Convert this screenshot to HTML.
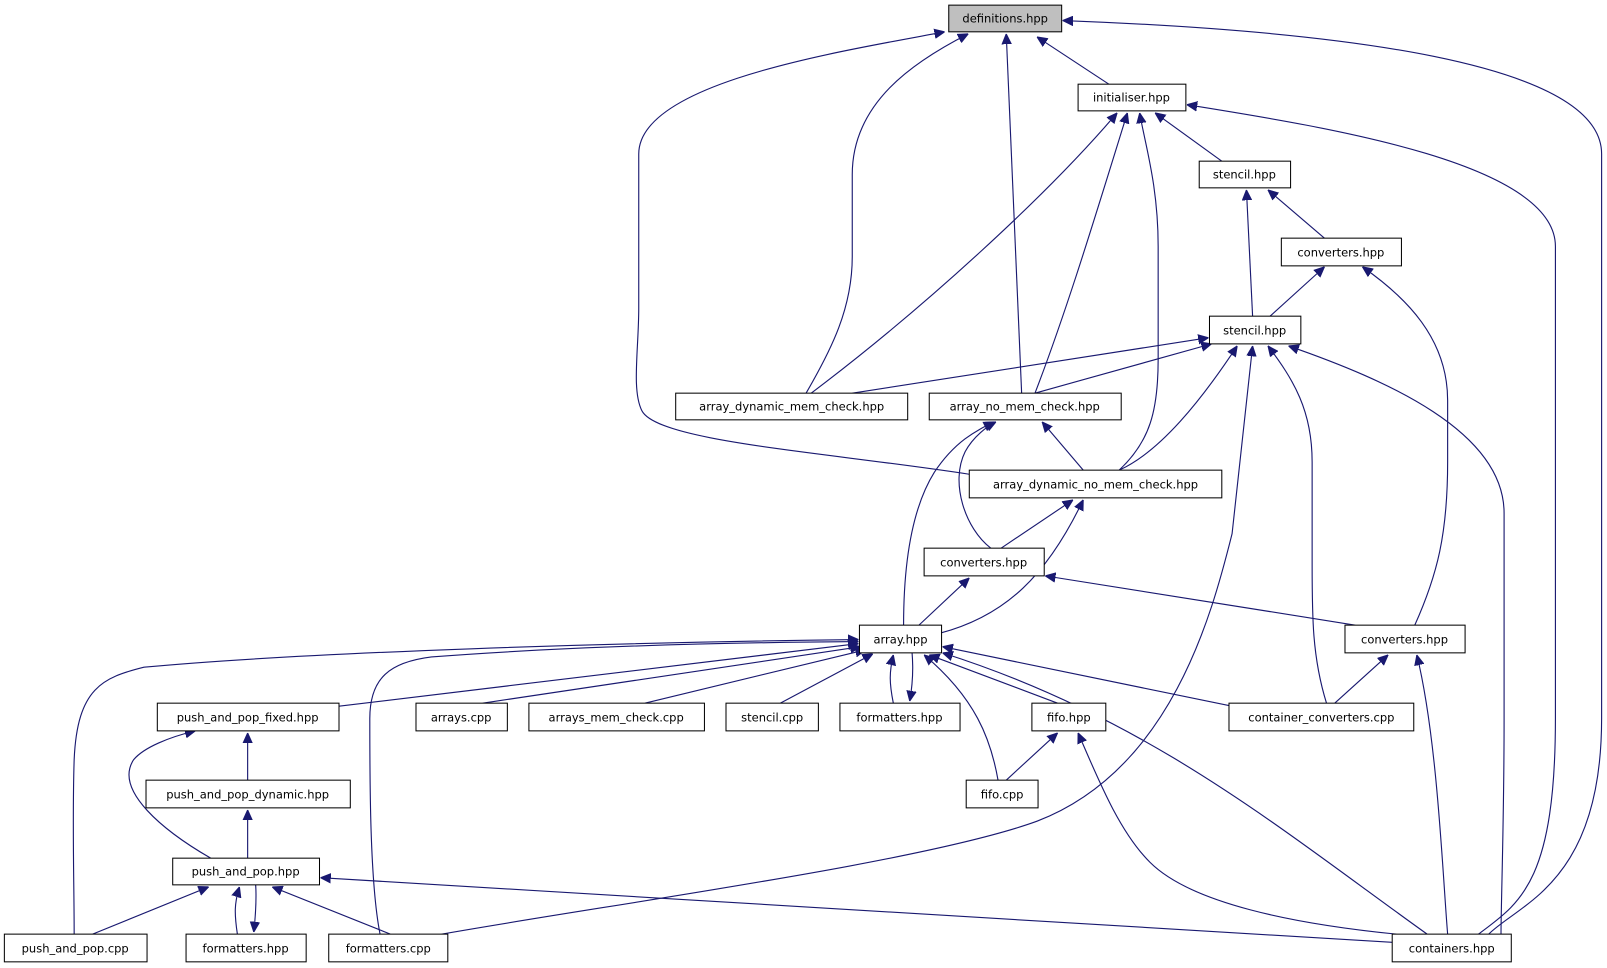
<!DOCTYPE html>
<html><head><meta charset="utf-8"><style>
html,body{margin:0;padding:0;background:#fff;width:1607px;height:968px;overflow:hidden}
svg{display:block}
text{font-family:"DejaVu Sans","Liberation Sans",sans-serif;font-size:11.2px;fill:#000;text-anchor:middle}
rect{fill:#fff;stroke:#000;stroke-width:1}
path{fill:none;stroke:#191970;stroke-width:1.1}
</style></head><body>
<svg width="1607" height="968" viewBox="0 0 1565 943" xmlns="http://www.w3.org/2000/svg">
<defs><marker id="a" viewBox="0 0 10 10" refX="10" refY="5" markerWidth="10" markerHeight="10" markerUnits="userSpaceOnUse" orient="auto"><path d="M0,0.5 L10,5 L0,9.5 z" style="fill:#191970;stroke:#191970;stroke-width:1"/></marker></defs>
<g marker-end="url(#a)">
<path d="M1080,82 L1010,36"/>
<path d="M1450,910 C1480,880 1560,860 1560,700 L1560,150 C1560,60 1300,30 1035,20"/>
<path d="M785,383 C810,340 830,300 830,250 L830,170 C830,100 890,60 943,33"/>
<path d="M995,383 L980,33"/>
<path d="M944,462 C800,440 640,430 625,400 C615,380 622,340 622,300 L622,150 C622,80 820,50 920,31"/>
<path d="M1190,157 L1125,110"/>
<path d="M1440,910 C1480,880 1515,860 1515,700 L1515,240 C1515,160 1300,125 1156,102"/>
<path d="M790,383 C900,300 1020,190 1088,110"/>
<path d="M1008,383 C1040,300 1070,200 1098,110"/>
<path d="M1090,458 C1120,430 1128,400 1128,350 L1128,240 C1128,180 1115,140 1110,110"/>
<path d="M1220,308 L1214,185"/>
<path d="M1290,232 L1235,185"/>
<path d="M1237,308 L1290,260"/>
<path d="M1378,609 C1400,560 1410,520 1410,450 L1410,390 C1410,330 1370,290 1327,260"/>
<path d="M830,383 L1177,329"/>
<path d="M1008,383 L1180,335"/>
<path d="M1090,458 C1130,440 1170,390 1205,337"/>
<path d="M430,910 C600,880 900,840 1010,800 C1140,750 1180,600 1200,520 L1220,337"/>
<path d="M1292,685 C1278,640 1278,600 1278,550 L1278,450 C1278,400 1260,370 1235,337"/>
<path d="M1462,910 C1462,880 1465,800 1465,700 L1465,500 C1465,420 1350,370 1255,337"/>
<path d="M1055,458 L1015,411"/>
<path d="M965,534 C940,515 925,470 940,440 C948,425 962,415 970,411"/>
<path d="M880,609 C880,560 885,500 910,460 C930,430 950,420 968,411"/>
<path d="M975,534 L1045,487"/>
<path d="M915,617 C980,600 1020,560 1055,487"/>
<path d="M895,609 L944,563"/>
<path d="M1320,609 L1018,561"/>
<path d="M1300,685 L1352,638"/>
<path d="M1410,910 C1405,850 1400,720 1380,638"/>
<path d="M241,760 L241,714"/>
<path d="M205,836 C160,810 110,770 130,740 C140,728 165,718 190,712"/>
<path d="M241,836 L241,789"/>
<path d="M980,760 L1030,714"/>
<path d="M1360,910 C1260,900 1160,880 1120,840 C1090,810 1070,760 1050,714"/>
<path d="M90,910 L203,864"/>
<path d="M231,910 C228,890 228,880 233,864"/>
<path d="M246,836 C250,860 250,880 247,908"/>
<path d="M380,910 L265,864"/>
<path d="M1356,918 L312,855"/>
<path d="M72,910 C72,860 70,800 72,740 C75,670 100,660 140,650 C300,635 600,626 836,623"/>
<path d="M330,688 L836,627"/>
<path d="M470,685 L838,630"/>
<path d="M628,685 L843,633"/>
<path d="M760,685 L850,637"/>
<path d="M870,685 C866,665 866,655 870,638"/>
<path d="M885,609 C890,640 890,660 886,683"/>
<path d="M1030,685 L905,638"/>
<path d="M972,760 C965,720 950,680 900,638"/>
<path d="M1200,688 L918,630"/>
<path d="M1390,910 C1250,810 1120,700 918,636"/>
<path d="M370,910 C360,860 360,760 360,700 C360,660 380,645 420,640 C550,630 700,626 836,625"/>
</g>
<rect x="924" y="5" width="110" height="26" style="fill:#bfbfbf"/><text x="979" y="22">definitions.hpp</text>
<rect x="1050" y="82" width="105" height="26"/><text x="1102" y="99">initialiser.hpp</text>
<rect x="1168" y="157" width="89" height="26"/><text x="1212" y="174">stencil.hpp</text>
<rect x="1248" y="232" width="117" height="27"/><text x="1306" y="250">converters.hpp</text>
<rect x="1178" y="308" width="89" height="27"/><text x="1222" y="326">stencil.hpp</text>
<rect x="658" y="383" width="226" height="26"/><text x="771" y="400">array_dynamic_mem_check.hpp</text>
<rect x="905" y="383" width="187" height="26"/><text x="998" y="400">array_no_mem_check.hpp</text>
<rect x="944" y="458" width="246" height="27"/><text x="1067" y="476">array_dynamic_no_mem_check.hpp</text>
<rect x="900" y="534" width="117" height="27"/><text x="958" y="552">converters.hpp</text>
<rect x="837" y="609" width="80" height="27"/><text x="877" y="627">array.hpp</text>
<rect x="1310" y="609" width="117" height="27"/><text x="1368" y="627">converters.hpp</text>
<rect x="153" y="685" width="177" height="27"/><text x="241" y="703">push_and_pop_fixed.hpp</text>
<rect x="405" y="685" width="89" height="27"/><text x="449" y="703">arrays.cpp</text>
<rect x="515" y="685" width="171" height="27"/><text x="600" y="703">arrays_mem_check.cpp</text>
<rect x="707" y="685" width="90" height="27"/><text x="752" y="703">stencil.cpp</text>
<rect x="818" y="685" width="117" height="27"/><text x="876" y="703">formatters.hpp</text>
<rect x="1005" y="685" width="72" height="27"/><text x="1041" y="703">fifo.hpp</text>
<rect x="1197" y="685" width="180" height="27"/><text x="1287" y="703">container_converters.cpp</text>
<rect x="142" y="760" width="199" height="27"/><text x="241" y="778">push_and_pop_dynamic.hpp</text>
<rect x="941" y="760" width="70" height="27"/><text x="976" y="778">fifo.cpp</text>
<rect x="168" y="836" width="143" height="26"/><text x="239" y="853">push_and_pop.hpp</text>
<rect x="4" y="910" width="139" height="27"/><text x="73" y="928">push_and_pop.cpp</text>
<rect x="181" y="910" width="117" height="27"/><text x="239" y="928">formatters.hpp</text>
<rect x="320" y="910" width="116" height="27"/><text x="378" y="928">formatters.cpp</text>
<rect x="1356" y="910" width="116" height="27"/><text x="1414" y="928">containers.hpp</text>
</svg>
</body></html>
